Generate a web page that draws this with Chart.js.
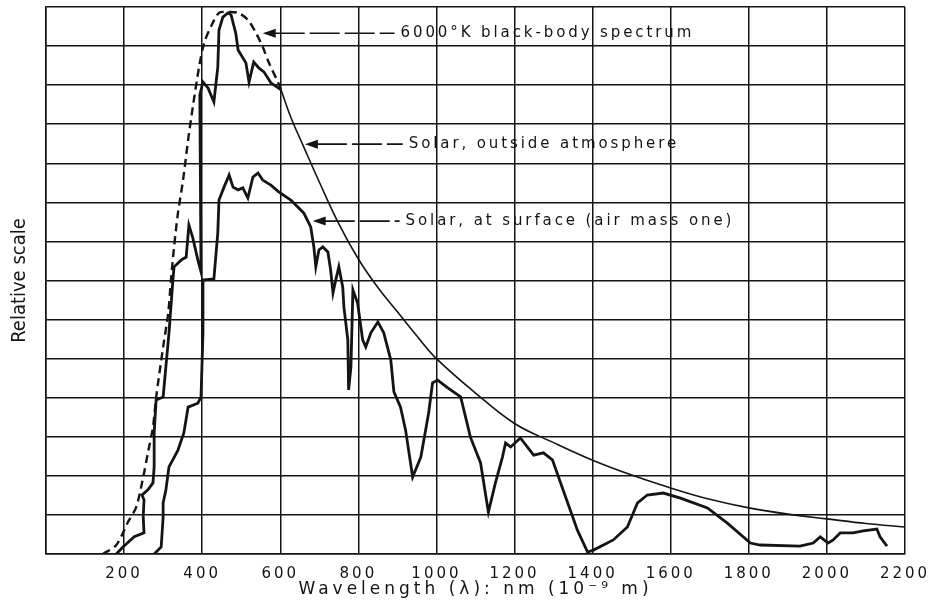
<!DOCTYPE html>
<html>
<head>
<meta charset="utf-8">
<script src="https://cdn.jsdelivr.net/npm/chart.js@4.4.0/dist/chart.umd.min.js"></script>
<style>
    html, body { margin: 0; padding: 0; background: #fff; }
</style>
</head>
<body>
<canvas id="chart" width="936" height="604"></canvas>
<script>
// wavelength in nm, intensity in grid units (0..14)
const bbWavelength = [146, 180, 210, 231, 249, 261, 274, 282, 300, 313, 320, 328, 338, 351, 364, 376, 392, 405, 422, 443, 466, 492, 517, 538, 555, 571, 594, 602];
const bbValue = [0, 0.23, 0.82, 1.2, 1.97, 2.59, 3.25, 4.0, 5.3, 6.17, 7.01, 7.86, 8.73, 9.57, 10.6, 11.44, 12.46, 13.08, 13.49, 13.85, 13.87, 13.85, 13.67, 13.33, 12.98, 12.57, 12.08, 11.88];

const outsideWavelength = [180, 197, 226, 251, 249, 251, 246, 261, 274, 277, 277, 282, 300, 307, 315, 325, 328, 346, 359, 366, 376, 389, 397, 394, 402, 415, 430, 440, 443, 453, 466, 474, 486, 492, 512, 520, 532, 545, 558, 576, 602, 627, 660, 700, 750, 800, 850, 900, 950, 1000, 1100, 1200, 1300, 1400, 1500, 1600, 1700, 1800, 1900, 2000, 2100, 2200];
const outsideValue = [0, 0.18, 0.44, 0.54, 0.95, 1.38, 1.51, 1.64, 1.82, 2.23, 3.1, 3.94, 4.02, 4.79, 5.66, 7.01, 7.35, 7.52, 7.6, 8.42, 8.09, 7.52, 7.22, 11.75, 12.08, 11.93, 11.57, 12.46, 13.41, 13.74, 13.85, 13.8, 13.33, 12.9, 12.57, 12.08, 12.59, 12.44, 12.34, 12.06, 11.88, 11.18, 10.42, 9.52, 8.45, 7.55, 6.82, 6.2, 5.58, 5.0, 4.12, 3.34, 2.85, 2.4, 2.02, 1.69, 1.4, 1.18, 1.02, 0.9, 0.78, 0.69];

const surfaceWavelength = [277, 295, 300, 300, 307, 315, 338, 353, 364, 389, 397, 402, 402, 430, 440, 443, 456, 469, 479, 492, 504, 517, 530, 543, 555, 576, 596, 627, 660, 678, 686, 691, 699, 709, 722, 729, 735, 742, 750, 760, 763, 773, 775, 781, 786, 798, 811, 819, 832, 850, 865, 883, 891, 908, 921, 939, 960, 980, 990, 1003, 1029, 1062, 1087, 1113, 1133, 1151, 1169, 1177, 1190, 1215, 1249, 1274, 1297, 1336, 1361, 1387, 1402, 1453, 1489, 1515, 1540, 1581, 1625, 1694, 1745, 1804, 1829, 1931, 1965, 1983, 2003, 2016, 2034, 2067, 2093, 2128, 2136, 2154];
const surfaceValue = [0, 0.18, 0.95, 1.31, 1.64, 2.23, 2.66, 3.1, 3.76, 3.86, 4.02, 5.66, 7.01, 7.04, 8.22, 9.06, 9.39, 9.7, 9.39, 9.32, 9.37, 9.11, 9.65, 9.75, 9.57, 9.44, 9.27, 9.06, 8.73, 8.37, 7.86, 7.35, 7.78, 7.86, 7.73, 7.27, 6.68, 7.01, 7.35, 6.83, 6.32, 5.48, 4.2, 4.79, 6.76, 6.42, 5.48, 5.3, 5.66, 5.94, 5.66, 4.97, 4.15, 3.76, 3.17, 1.97, 2.48, 3.61, 4.38, 4.45, 4.25, 4.02, 2.99, 2.33, 1.07, 1.82, 2.48, 2.84, 2.74, 2.97, 2.53, 2.59, 2.41, 1.31, 0.61, 0.05, 0.1, 0.36, 0.69, 1.31, 1.51, 1.56, 1.43, 1.18, 0.79, 0.28, 0.23, 0.2, 0.28, 0.44, 0.28, 0.36, 0.54, 0.54, 0.59, 0.64, 0.44, 0.2];

const xTickValues = [0, 200, 400, 600, 800, 1000, 1200, 1400, 1600, 1800, 2000, 2200];
const yGridValues = [0, 1, 2, 3, 4, 5, 6, 7, 8, 9, 10, 11, 12, 13, 14];

const xTitle = "Wavelength (\u03BB): nm (10\u207B\u2079 m)";
const yTitle = "Relative scale";

// callouts: text, arrow tip (nm), text start (nm), level
const noteText = ["6000\u00B0K black-body spectrum", "Solar, outside atmosphere", "Solar, at surface (air mass one)"];
const noteTipNm = [555, 663, 683];
const noteTextNm = [908, 929, 921];
const noteLevel = [13.33, 10.49, 8.52];

const ink = "#141414";
const wideFont = "'DejaVu Sans', sans-serif";

const toPoints = (xs, ys) => xs.map((v, i) => ({ x: v, y: ys[i] }));

// the measured part of the outside curve is heavy, the smooth tail past 600 nm is thin
const tailStart = outsideWavelength.indexOf(602);

// x axis lettering is very wide in the original, so space it out
const spacedAxis = {
    id: "spacedAxis",
    beforeDraw(chart) {
        const sc = chart.scales.x;
        if (sc._spaced) return;
        const ctx = chart.ctx;
        const wrap = (fn, gap) => function (...args) {
            ctx.letterSpacing = gap;
            fn.apply(this, args);
            ctx.letterSpacing = "0px";
        };
        sc.drawLabels = wrap(sc.drawLabels, "3px");
        sc.drawTitle = wrap(sc.drawTitle, "4px");
        sc._spaced = true;
    }
};

const notes = {
    id: "notes",
    afterDraw(chart) {
        const { ctx, scales: { x, y } } = chart;
        ctx.save();
        ctx.fillStyle = ink;
        ctx.strokeStyle = ink;
        ctx.font = "15px " + wideFont;
        ctx.letterSpacing = "2.9px";
        ctx.textBaseline = "middle";
        noteText.forEach((t, i) => {
            const tip = x.getPixelForValue(noteTipNm[i]);
            const yy = y.getPixelForValue(noteLevel[i]);
            const tx = x.getPixelForValue(noteTextNm[i]);
            ctx.beginPath();
            ctx.moveTo(tip, yy);
            ctx.lineTo(tip + 13, yy - 4.5);
            ctx.lineTo(tip + 13, yy + 4.5);
            ctx.closePath();
            ctx.fill();
            ctx.lineWidth = 1.6;
            ctx.setLineDash([30, 5]);
            ctx.beginPath();
            ctx.moveTo(tip + 12, yy);
            ctx.lineTo(tx - 6, yy);
            ctx.stroke();
            ctx.setLineDash([]);
            ctx.fillText(t, tx, yy);
        });
        ctx.restore();
    }
};

new Chart("chart", {
    type: "line",
    data: {
        datasets: [{
            label: "Solar, at surface",
            data: toPoints(surfaceWavelength, surfaceValue),
            borderColor: ink,
            borderWidth: 2.8,
            pointRadius: 0,
            tension: 0
        }, {
            label: "Solar, outside atmosphere",
            data: toPoints(outsideWavelength.slice(0, tailStart + 1), outsideValue.slice(0, tailStart + 1)),
            borderColor: ink,
            borderWidth: 2.8,
            pointRadius: 0,
            tension: 0
        }, {
            label: "Solar, outside atmosphere (tail)",
            data: toPoints(outsideWavelength.slice(tailStart), outsideValue.slice(tailStart)),
            borderColor: ink,
            borderWidth: 1.6,
            pointRadius: 0,
            tension: 0.4
        }, {
            label: "6000K black-body",
            data: toPoints(bbWavelength, bbValue),
            borderColor: ink,
            borderWidth: 2.4,
            borderDash: [8, 5],
            pointRadius: 0,
            tension: 0.3
        }]
    },
    options: {
        responsive: false,
        animation: false,
        layout: { padding: { top: 7, right: 31, left: 0, bottom: 0 } },
        plugins: {
            legend: { display: false },
            tooltip: { enabled: false }
        },
        scales: {
            x: {
                type: "linear",
                min: 0,
                max: 2200,
                afterBuildTicks: (s) => { s.ticks = xTickValues.map((v) => ({ value: v })); },
                afterFit: (s) => { s.height = 50; },
                grid: { color: ink, lineWidth: 1.5, drawTicks: false },
                border: { color: ink, width: 1.5 },
                ticks: {
                    font: { family: wideFont, size: 15 },
                    color: ink,
                    padding: 11,
                    autoSkip: false,
                    maxRotation: 0,
                    callback: (v) => v === 0 ? "" : String(v)
                },
                title: {
                    display: true,
                    text: xTitle,
                    font: { family: wideFont, size: 17 },
                    color: ink,
                    padding: { top: 0, bottom: 4 }
                }
            },
            y: {
                min: 0,
                max: 14,
                afterBuildTicks: (s) => { s.ticks = yGridValues.map((v) => ({ value: v })); },
                afterFit: (s) => { s.width = 46; },
                grid: { color: ink, lineWidth: 1.5, drawTicks: false },
                border: { color: ink, width: 1.5 },
                ticks: { display: false },
                title: {
                    display: true,
                    text: yTitle,
                    font: { family: "'Liberation Sans Narrow', 'DejaVu Sans Condensed', sans-serif", size: 20 },
                    color: ink,
                    padding: { top: 8, bottom: 0 }
                }
            }
        }
    },
    plugins: [spacedAxis, notes]
});
</script>
</body>
</html>
